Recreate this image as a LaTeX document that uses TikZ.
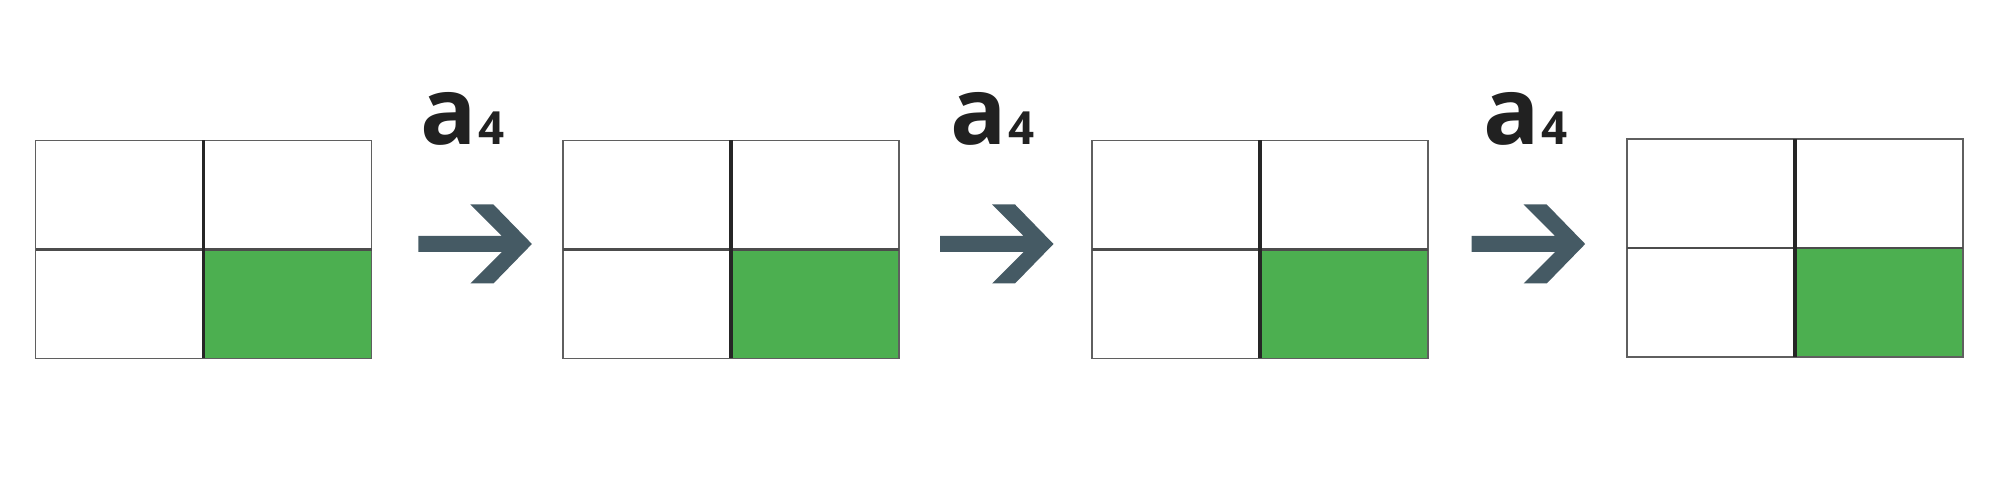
\documentclass[tikz,border=0pt]{standalone}
\usepackage{fontspec}
\setmainfont{Open Sans}
\usetikzlibrary{positioning}
\definecolor{cellgreen}{HTML}{4CAF50}
\definecolor{arrowgray}{HTML}{455A64}
\definecolor{labelblack}{HTML}{212121}
\definecolor{gridgray}{HTML}{5F5F5F}
\tikzset{
	cell/.style={draw=gridgray, line width=0.45pt, minimum width=1.68cm, minimum height=1.09cm, inner sep=0pt, outer sep=0pt},
	greencell/.style={cell, fill=cellgreen},
	vmid/.style={draw=black!85, line width=0.9pt},
	hmid/.style={draw=black!70, line width=0.6pt},
	steplabel/.style={text=labelblack, font=\bfseries, inner sep=0pt, anchor=base west},
	bigarrow/.style={fill=arrowgray}
}
\newcommand{\actlabel}{{\fontsize{26.6pt}{30pt}\selectfont a}\hspace{0.3pt}{\fontsize{13pt}{16pt}\selectfont 4}}

\begin{document}
\begin{tikzpicture}
	\useasboundingbox (0,0) rectangle (20,5);
	% grid 1
	\node (A1) [cell, anchor = north west] at (0.357,3.595) {};
	\node (B1) [cell, anchor = west] at (A1.east) {};
	\node (C1) [cell, anchor = north] at (A1.south) {};
	\node (D1) [greencell, anchor = west] at (C1.east) {};
	\draw [hmid] (A1.south west) -- (B1.south east);
	\draw [vmid] (A1.north east) -- (C1.south east);
	%
	\coordinate (S1) at (4.184,2.56);
	\fill [bigarrow] (S1) ++(0,0.08) -- ++(0.835,0) -- ++(-0.315,0.315) -- ++(0.23,0) -- ++(0.385,-0.395) -- ++(-0.385,-0.395) -- ++(-0.23,0) -- ++(0.315,0.315) -- ++(-0.835,0) -- cycle;
	\node (L1) [steplabel] at (4.20,3.55) {\actlabel};
	% grid 2
	\node (A2) [cell, anchor = north west] at (5.63,3.595) {};
	\node (B2) [cell, anchor = west] at (A2.east) {};
	\node (C2) [cell, anchor = north] at (A2.south) {};
	\node (D2) [greencell, anchor = west] at (C2.east) {};
	\draw [hmid] (A2.south west) -- (B2.south east);
	\draw [vmid] (A2.north east) -- (C2.south east);
	%
	\coordinate (S2) at (9.40,2.56);
	\fill [bigarrow] (S2) ++(0,0.08) -- ++(0.835,0) -- ++(-0.315,0.315) -- ++(0.23,0) -- ++(0.385,-0.395) -- ++(-0.385,-0.395) -- ++(-0.23,0) -- ++(0.315,0.315) -- ++(-0.835,0) -- cycle;
	\node (L2) [steplabel] at (9.50,3.55) {\actlabel};
	% grid 3
	\node (A3) [cell, anchor = north west] at (10.92,3.595) {};
	\node (B3) [cell, anchor = west] at (A3.east) {};
	\node (C3) [cell, anchor = north] at (A3.south) {};
	\node (D3) [greencell, anchor = west] at (C3.east) {};
	\draw [hmid] (A3.south west) -- (B3.south east);
	\draw [vmid] (A3.north east) -- (C3.south east);
	%
	\coordinate (S3) at (14.717,2.56);
	\fill [bigarrow] (S3) ++(0,0.08) -- ++(0.835,0) -- ++(-0.315,0.315) -- ++(0.23,0) -- ++(0.385,-0.395) -- ++(-0.385,-0.395) -- ++(-0.23,0) -- ++(0.315,0.315) -- ++(-0.835,0) -- cycle;
	\node (L3) [steplabel] at (14.83,3.55) {\actlabel};
	% grid 4
	\node (A4) [cell, anchor = north west] at (16.27,3.607) {};
	\node (B4) [cell, anchor = west] at (A4.east) {};
	\node (C4) [cell, anchor = north] at (A4.south) {};
	\node (D4) [greencell, anchor = west] at (C4.east) {};
	\draw [hmid] (A4.south west) -- (B4.south east);
	\draw [vmid] (A4.north east) -- (C4.south east);
\end{tikzpicture}
\end{document}
